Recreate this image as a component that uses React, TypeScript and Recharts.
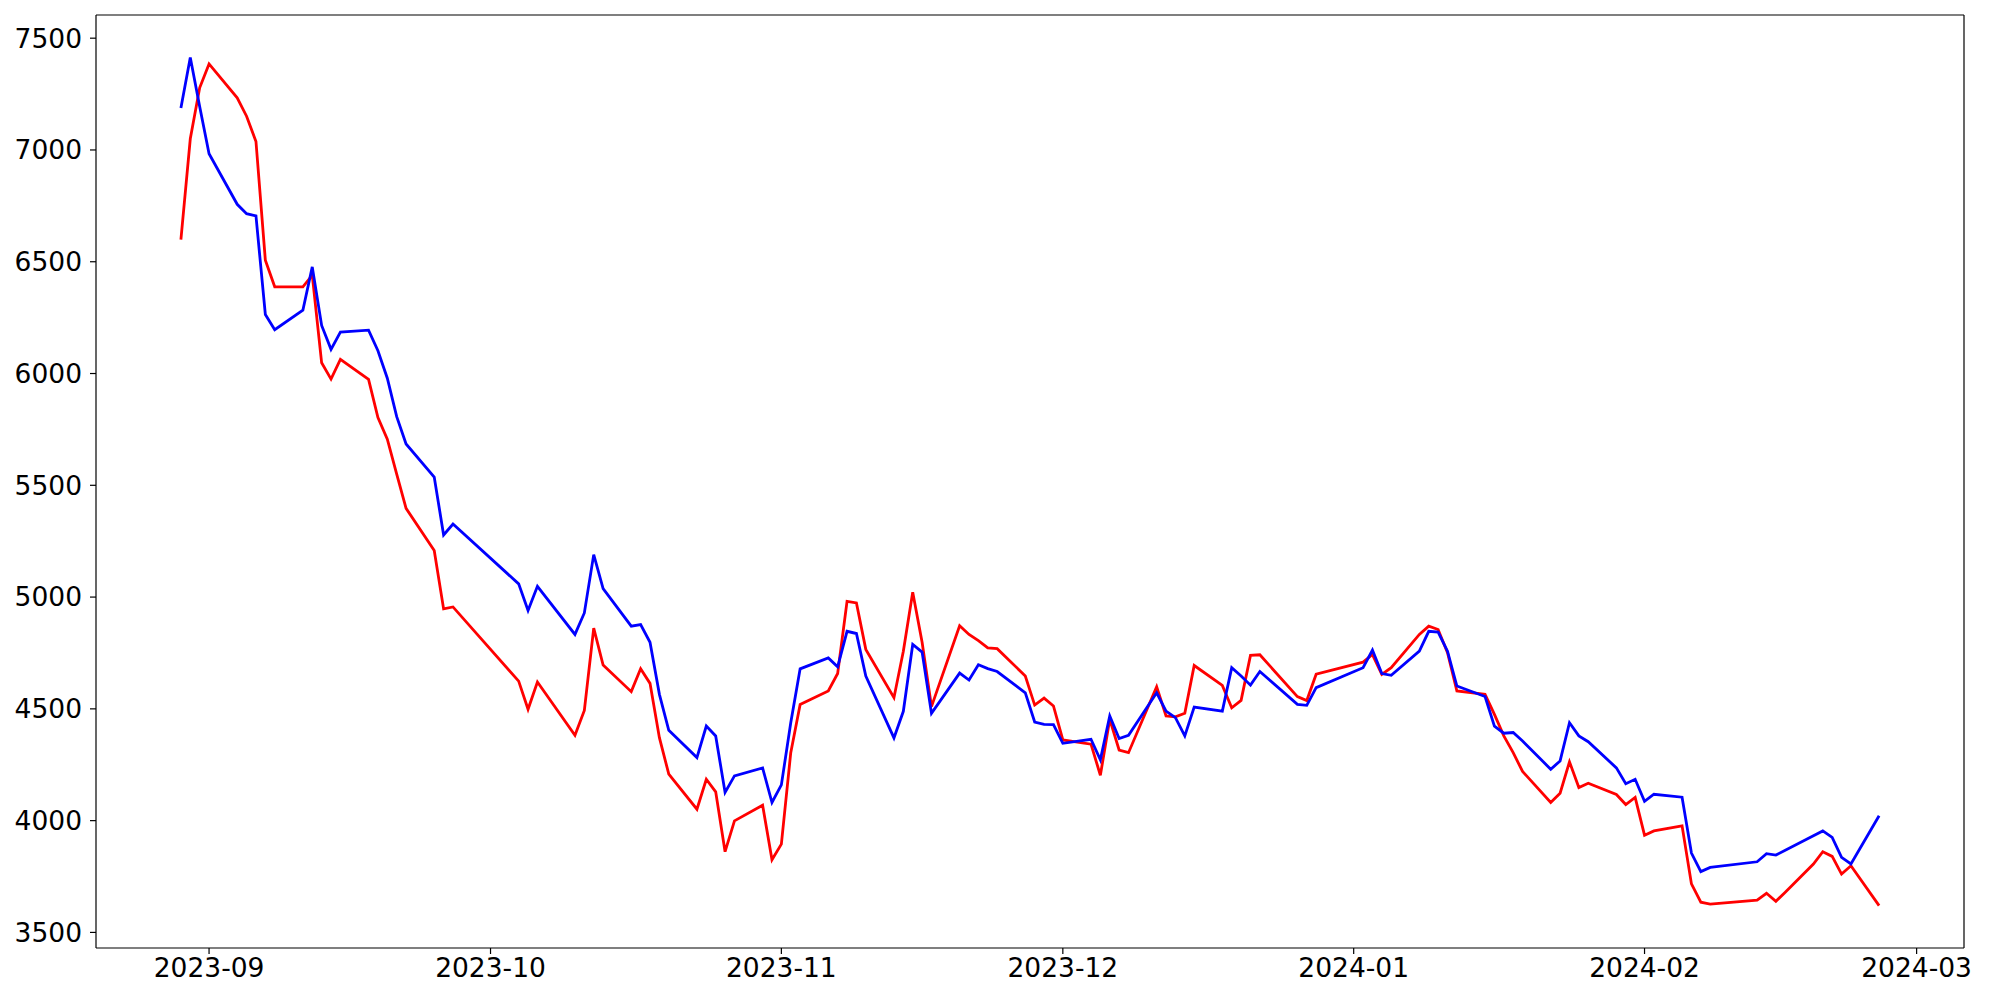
import { LineChart, Line, XAxis, YAxis, ReferenceLine } from "recharts"

// Korean trading days, late Aug 2023 - late Feb 2024
const dates = [
  "2023-08-29", "2023-08-30", "2023-08-31", "2023-09-01",
  "2023-09-04", "2023-09-05", "2023-09-06", "2023-09-07", "2023-09-08",
  "2023-09-11", "2023-09-12", "2023-09-13", "2023-09-14", "2023-09-15",
  "2023-09-18", "2023-09-19", "2023-09-20", "2023-09-21", "2023-09-22",
  "2023-09-25", "2023-09-26", "2023-09-27",
  "2023-10-04", "2023-10-05", "2023-10-06",
  "2023-10-10", "2023-10-11", "2023-10-12", "2023-10-13",
  "2023-10-16", "2023-10-17", "2023-10-18", "2023-10-19", "2023-10-20",
  "2023-10-23", "2023-10-24", "2023-10-25", "2023-10-26", "2023-10-27",
  "2023-10-30", "2023-10-31", "2023-11-01", "2023-11-02", "2023-11-03",
  "2023-11-06", "2023-11-07", "2023-11-08", "2023-11-09", "2023-11-10",
  "2023-11-13", "2023-11-14", "2023-11-15", "2023-11-16", "2023-11-17",
  "2023-11-20", "2023-11-21", "2023-11-22", "2023-11-23", "2023-11-24",
  "2023-11-27", "2023-11-28", "2023-11-29", "2023-11-30", "2023-12-01",
  "2023-12-04", "2023-12-05", "2023-12-06", "2023-12-07", "2023-12-08",
  "2023-12-11", "2023-12-12", "2023-12-13", "2023-12-14", "2023-12-15",
  "2023-12-18", "2023-12-19", "2023-12-20", "2023-12-21", "2023-12-22",
  "2023-12-26", "2023-12-27", "2023-12-28",
  "2024-01-02", "2024-01-03", "2024-01-04", "2024-01-05",
  "2024-01-08", "2024-01-09", "2024-01-10", "2024-01-11", "2024-01-12",
  "2024-01-15", "2024-01-16", "2024-01-17", "2024-01-18", "2024-01-19",
  "2024-01-22", "2024-01-23", "2024-01-24", "2024-01-25", "2024-01-26",
  "2024-01-29", "2024-01-30", "2024-01-31", "2024-02-01", "2024-02-02",
  "2024-02-05", "2024-02-06", "2024-02-07", "2024-02-08",
  "2024-02-13", "2024-02-14", "2024-02-15", "2024-02-16",
  "2024-02-19", "2024-02-20", "2024-02-21", "2024-02-22", "2024-02-23",
  "2024-02-26",
]

const blueValues = [
  7188, 7414, 7194, 6983,
  6757, 6715, 6705, 6264, 6196,
  6283, 6477, 6215, 6108, 6185,
  6194, 6102, 5979, 5807, 5685,
  5537, 5278, 5327,
  5059, 4940, 5048,
  4833, 4929, 5190, 5038,
  4870, 4877, 4798, 4565, 4404,
  4282, 4423, 4379, 4126, 4200,
  4236, 4081, 4160, 4438, 4679,
  4728, 4688, 4847, 4837, 4647,
  4370, 4489, 4788, 4754, 4480,
  4660, 4629, 4697, 4680, 4667,
  4572, 4441, 4431, 4430, 4346,
  4364, 4272, 4468, 4367, 4382,
  4572, 4490, 4461, 4379, 4508,
  4490, 4684, 4647, 4606, 4667,
  4520, 4516, 4595,
  4684, 4763, 4658, 4650,
  4758, 4847, 4843, 4758, 4602,
  4555, 4423, 4391, 4394, 4356,
  4230, 4267, 4438, 4379, 4353,
  4236, 4165, 4185, 4086, 4118,
  4105, 3855, 3772, 3791,
  3816, 3852, 3846, 3867,
  3932, 3954, 3925, 3836, 3806,
  4022,
]

const redValues = [
  6599, 7050, 7278, 7385,
  7233, 7151, 7038, 6507, 6388,
  6388, 6440, 6048, 5975, 6063,
  5974, 5803, 5706, 5550, 5397,
  5208, 4947, 4956,
  4624, 4498, 4620,
  4382, 4493, 4861, 4696,
  4577, 4679, 4614, 4371, 4208,
  4051, 4185, 4129, 3861, 3999,
  4069, 3825, 3895, 4304, 4520,
  4580, 4658, 4981, 4974, 4766,
  4550, 4758, 5022, 4798, 4510,
  4872, 4833, 4805, 4773, 4769,
  4647, 4517, 4548, 4513, 4361,
  4342, 4203, 4453, 4316, 4304,
  4599, 4468, 4464, 4480, 4694,
  4605, 4505, 4538, 4739, 4742,
  4555, 4537, 4655,
  4709, 4743, 4654, 4684,
  4833, 4870, 4855, 4751, 4580,
  4565, 4475, 4379, 4304, 4220,
  4081, 4123, 4263, 4148, 4167,
  4117, 4072, 4104, 3935, 3954,
  3977, 3717, 3635, 3627,
  3644, 3675, 3639, 3680,
  3806, 3861, 3840, 3761, 3798,
  3620,
]

const monthTicks = ["2023-09-01", "2023-10-01", "2023-11-01", "2023-12-01", "2024-01-01", "2024-02-01", "2024-03-01"]
const yTicks = [3500, 4000, 4500, 5000, 5500, 6000, 6500, 7000, 7500]

const rows = dates.map((d, i) => ({ t: Date.parse(d), blue: blueValues[i], red: redValues[i] }))

// matplotlib-style 5% padding around the data
const tMin = rows[0].t
const tMax = rows[rows.length - 1].t
const tPad = (tMax - tMin) * 0.05
const xDomain = [tMin - tPad, tMax + tPad]

const allValues = [...blueValues, ...redValues]
const vMin = Math.min(...allValues)
const vMax = Math.max(...allValues)
const vPad = (vMax - vMin) * 0.05
const yDomain = [vMin - vPad, vMax + vPad]

const tickStyle = { fill: "#000000", fontSize: 26.5, fontFamily: "DejaVu Sans" }
const frame = { stroke: "#000000", strokeWidth: 1.2 }

const fmtMonth = (v: number) => {
  const d = new Date(v)
  return `${d.getUTCFullYear()}-${String(d.getUTCMonth() + 1).padStart(2, "0")}`
}

export default function App() {
  return (
    <div style={{ width: 2000, height: 1000, background: "#ffffff" }}>
      <style>{`body { margin: 0; }`}</style>
      <LineChart width={2000} height={1000} data={rows} margin={{ top: 15, right: 36, left: 0, bottom: 0 }}>
        <XAxis
          dataKey="t"
          type="number"
          scale="linear"
          domain={xDomain}
          allowDataOverflow
          ticks={monthTicks.map((m) => Date.parse(m))}
          tickFormatter={fmtMonth}
          tick={tickStyle}
          tickSize={6}
          tickMargin={4}
          tickLine={frame}
          axisLine={frame}
          height={52}
          interval={0}
        />
        <YAxis
          type="number"
          domain={yDomain}
          allowDataOverflow
          ticks={yTicks}
          tick={tickStyle}
          tickSize={6}
          tickMargin={8}
          tickLine={frame}
          axisLine={frame}
          width={96}
          interval={0}
        />
        {/* top and right spines */}
        <ReferenceLine y={yDomain[1]} stroke="#000000" strokeWidth={1.2} />
        <ReferenceLine x={xDomain[1]} stroke="#000000" strokeWidth={1.2} />
        <Line type="linear" dataKey="red" stroke="#ff0000" strokeWidth={2.8} dot={false} isAnimationActive={false} />
        <Line type="linear" dataKey="blue" stroke="#0000ff" strokeWidth={2.8} dot={false} isAnimationActive={false} />
      </LineChart>
    </div>
  )
}
